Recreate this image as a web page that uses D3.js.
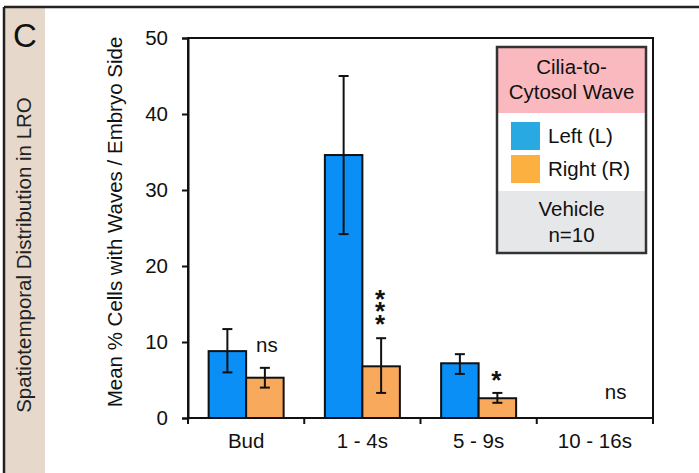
<!DOCTYPE html>
<html>
<head>
<meta charset="utf-8">
<script src="https://cdn.jsdelivr.net/npm/d3@7"></script>
<style>
  html, body { margin: 0; padding: 0; background: #fff; }
  svg { display: block; font-family: "Liberation Sans", Arial, Helvetica, sans-serif; }
</style>
</head>
<body>
<svg id="chart" width="699" height="473"></svg>
<script>
// Stages and measurements
const stages = ["Bud", "1 - 4s", "5 - 9s", "10 - 16s"];
const leftMean = [8.8, 34.6, 7.2, 0];
const leftLow = [6.0, 24.2, 5.8, 0];
const leftHigh = [11.7, 45.0, 8.4, 0];
const rightMean = [5.3, 6.8, 2.6, 0];
const rightLow = [4.0, 3.3, 2.0, 0];
const rightHigh = [6.6, 10.5, 3.3, 0];
const significance = ["ns", "***", "*", "ns"];
const yTicks = [0, 10, 20, 30, 40, 50];

const FS = 20.5;
const svg = d3.select("#chart");
const W = 699, H = 473;

// Panel frame and side strip
svg.append("rect").attr("x", 4).attr("y", 7).attr("width", 41).attr("height", H - 7).attr("fill", "#e6d9cb");
svg.append("line").attr("x1", 4).attr("x2", W).attr("y1", 7).attr("y2", 7).attr("stroke", "#222").attr("stroke-width", 2.5);
svg.append("line").attr("x1", 4).attr("x2", 4).attr("y1", 7).attr("y2", H).attr("stroke", "#222").attr("stroke-width", 2.5);
svg.append("text").attr("x", 25).attr("y", 47).attr("text-anchor", "middle")
  .attr("font-size", 33).attr("fill", "#111").text("C");
svg.append("text").attr("transform", "translate(31,255) rotate(-90)").attr("text-anchor", "middle")
  .attr("font-size", 20.5).attr("fill", "#222").text("Spatiotemporal Distribution in LRO");

// Plot area
const x0 = 188, x1 = 653, yTop = 38, yBot = 418;
const x = d3.scaleBand().domain(stages).range([x0, x1]);
const y = d3.scaleLinear().domain([0, 50]).range([yBot, yTop]);
const barW = 37.5;

const g = svg.append("g");

// Frame
g.append("rect").attr("x", x0).attr("y", yTop).attr("width", x1 - x0).attr("height", yBot - yTop)
  .attr("fill", "none").attr("stroke", "#111").attr("stroke-width", 2);

// Axes
const yAxis = d3.axisLeft(y).tickValues(yTicks).tickSize(6).tickPadding(14);
const ya = g.append("g").attr("transform", `translate(${x0},0)`).call(yAxis);
ya.select(".domain").attr("stroke", "#111").attr("stroke-width", 2);
ya.selectAll(".tick line").attr("stroke", "#111").attr("stroke-width", 2);
ya.selectAll(".tick text").attr("font-size", FS).attr("fill", "#111")
  .attr("font-family", "Liberation Sans, Arial, sans-serif");

const xAxis = d3.axisBottom(x).tickSize(0).tickPadding(15);
const xa = g.append("g").attr("transform", `translate(0,${yBot})`).call(xAxis);
xa.select(".domain").remove();
xa.selectAll(".tick text").attr("font-size", FS).attr("fill", "#111")
  .attr("font-family", "Liberation Sans, Arial, sans-serif");

// Band boundary ticks
const boundaries = stages.map(s => x(s)).concat([x1]);
g.selectAll(".bt").data(boundaries).join("line")
  .attr("x1", d => d).attr("x2", d => d).attr("y1", yBot).attr("y2", yBot + 6)
  .attr("stroke", "#111").attr("stroke-width", 2);

svg.append("text").attr("transform", `translate(122,222) rotate(-90)`)
  .attr("text-anchor", "middle").attr("font-size", FS).attr("fill", "#111")
  .text("Mean % Cells with Waves / Embryo Side");

// Bars
const series = [
  { mean: leftMean, low: leftLow, high: leftHigh, color: "#0a8ff7", off: -barW },
  { mean: rightMean, low: rightLow, high: rightHigh, color: "#f9a95b", off: 0 }
];
const cx = s => x(s) + x.bandwidth() / 2;

series.forEach(sr => {
  stages.forEach((s, i) => {
    if (sr.mean[i] <= 0) return;
    g.append("rect")
      .attr("x", cx(s) + sr.off).attr("y", y(sr.mean[i]))
      .attr("width", barW).attr("height", y(0) - y(sr.mean[i]))
      .attr("fill", sr.color).attr("stroke", "#111").attr("stroke-width", 2);
  });
});

// Error bars
series.forEach(sr => {
  stages.forEach((s, i) => {
    if (sr.mean[i] <= 0) return;
    const ex = cx(s) + sr.off + barW / 2;
    g.append("line").attr("x1", ex).attr("x2", ex).attr("y1", y(sr.high[i])).attr("y2", y(sr.low[i]))
      .attr("stroke", "#111").attr("stroke-width", 2);
    [sr.high[i], sr.low[i]].forEach(v => {
      g.append("line").attr("x1", ex - 5).attr("x2", ex + 5).attr("y1", y(v)).attr("y2", y(v))
        .attr("stroke", "#111").attr("stroke-width", 2);
    });
  });
});

// Significance marks above the right-side error bar
stages.forEach((s, i) => {
  const ex = cx(s) + barW / 2;
  const mark = significance[i];
  if (mark === "ns") {
    const base = rightHigh[i] > 0 ? y(rightHigh[i]) - 16 : y(0) - 19;
    g.append("text").attr("x", ex + 2).attr("y", base)
      .attr("text-anchor", "middle").attr("font-size", FS).attr("fill", "#111").text("ns");
  } else if (mark.length === 1) {
    g.append("text").attr("x", ex - 1).attr("y", y(rightHigh[i]) - 19 + 15)
      .attr("text-anchor", "middle").attr("font-size", 26).attr("font-weight", "bold")
      .attr("fill", "#111").text(mark);
  } else {
    // several stars stacked in a column
    const n = mark.length;
    const midCenter = y(rightHigh[i]) - 19 - (n - 1) * 12.6 / 2;
    g.append("text").attr("x", ex - 1).attr("y", midCenter - 4)
      .attr("text-anchor", "middle")
      .style("writing-mode", "vertical-rl").style("text-orientation", "upright")
      .attr("letter-spacing", 12.6 - 26 - 4.4)
      .attr("font-size", 26).attr("font-weight", "bold").attr("fill", "#111").text(mark);
  }
});

// Legend
const lg = svg.append("g");
const lx = 497, lw = 149;
lg.append("rect").attr("x", lx).attr("y", 47).attr("width", lw).attr("height", 66).attr("fill", "#f9b9bf");
lg.append("rect").attr("x", lx).attr("y", 113).attr("width", lw).attr("height", 78).attr("fill", "#fff");
lg.append("rect").attr("x", lx).attr("y", 191).attr("width", lw).attr("height", 62).attr("fill", "#e6e7e8");
lg.append("rect").attr("x", lx).attr("y", 47).attr("width", lw).attr("height", 206)
  .attr("fill", "none").attr("stroke", "#333").attr("stroke-width", 2.5);
const lcx = lx + lw / 2;
[["Cilia-to-", 74], ["Cytosol Wave", 99], ["Vehicle", 216], ["n=10", 242]].forEach(([t, yy]) => {
  lg.append("text").attr("x", lcx).attr("y", yy).attr("text-anchor", "middle")
    .attr("font-size", FS).attr("fill", "#111").text(t);
});
const legendItems = [["Left (L)", "#29a9e1", 122], ["Right (R)", "#fbb040", 155]];
legendItems.forEach(([t, c, yy]) => {
  lg.append("rect").attr("x", 511).attr("y", yy).attr("width", 29).attr("height", 28).attr("fill", c);
  lg.append("text").attr("x", 548).attr("y", yy + 21).attr("font-size", FS).attr("fill", "#111").text(t);
});
</script>
</body>
</html>
